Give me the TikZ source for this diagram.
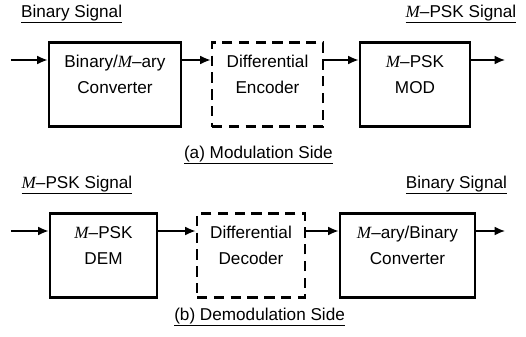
\documentclass[tikz,border=0pt]{standalone}
\usepackage{fontspec}
\setmainfont{Liberation Sans}
\newfontfamily\timesfont{Liberation Serif}
\usetikzlibrary{arrows.meta}

\newcommand{\Msym}{{\timesfont\itshape M}}

\tikzset{
	block/.style={draw=black,line width=2pt,minimum width=#1,minimum height=2.1cm,inner sep=0pt},
	dblock/.style={block=#1,dash pattern=on 0.26cm off 0.16cm},
	boxtext/.style={align=center,inner sep=0pt},
}

\begin{document}
\begin{tikzpicture}[>={Latex[length=2.6mm,width=2.2mm]},line width=1pt,font=\fontsize{12.2}{19}\selectfont]
	\useasboundingbox (0,0) rectangle (13.15,-8.425);

	% Modulation side: boxes
	\node[block=3.3cm] (conva) at (2.875,-2.1125) {};
	\node[dblock=2.775cm] (enc) at (6.6875,-2.1125) {};
	\node[block=2.75cm] (mod) at (10.375,-2.1125) {};
	\node[boxtext] (convatxt) at ([yshift=0.25cm]conva.center) {Binary/\Msym--ary\\Converter};
	\node[boxtext] (enctxt) at ([yshift=0.25cm]enc.center) {Differential\\Encoder};
	\node[boxtext] (modtxt) at ([yshift=0.25cm]mod.center) {\Msym--PSK\\MOD};

	% Modulation side: arrows
	\coordinate (ina) at (0.275,-1.5);
	\coordinate (outa) at (12.625,-1.5);
	\draw[->] (ina) -- (ina -| conva.west);
	\draw[->] (conva.east |- ina) -- (enc.west |- ina);
	\draw[->] (enc.east |- ina) -- (mod.west |- ina);
	\draw[->] (mod.east |- ina) -- (outa);

	% Modulation side: labels
	\node (bina) at (1.79,-0.35) {\underline{Binary Signal}};
	\node (pska) at (11.525,-0.35) {\underline{\Msym--PSK Signal}};
	\node (capa) at (6.46,-3.875) {\underline{(a) Modulation Side}};

	% Demodulation side: boxes
	\node[block=2.675cm] (dem) at (2.5875,-6.3875) {};
	\node[dblock=2.7cm] (dec) at (6.275,-6.3875) {};
	\node[block=3.375cm] (convb) at (10.1875,-6.3875) {};
	\node[boxtext] (demtxt) at ([yshift=0.25cm]dem.center) {\Msym--PSK\\DEM};
	\node[boxtext] (dectxt) at ([yshift=0.25cm]dec.center) {Differential\\Decoder};
	\node[boxtext] (convbtxt) at ([yshift=0.25cm]convb.center) {\Msym--ary/Binary\\Converter};

	% Demodulation side: arrows
	\coordinate (inb) at (0.275,-5.775);
	\coordinate (outb) at (12.625,-5.775);
	\draw[->] (inb) -- (inb -| dem.west);
	\draw[->] (dem.east |- inb) -- (dec.west |- inb);
	\draw[->] (dec.east |- inb) -- (convb.west |- inb);
	\draw[->] (convb.east |- inb) -- (outb);

	% Demodulation side: labels
	\node (pskb) at (1.925,-4.625) {\underline{\Msym--PSK Signal}};
	\node (binb) at (11.41,-4.625) {\underline{Binary Signal}};
	\node (capb) at (6.49,-7.925) {\underline{(b) Demodulation Side}};
\end{tikzpicture}
\end{document}
